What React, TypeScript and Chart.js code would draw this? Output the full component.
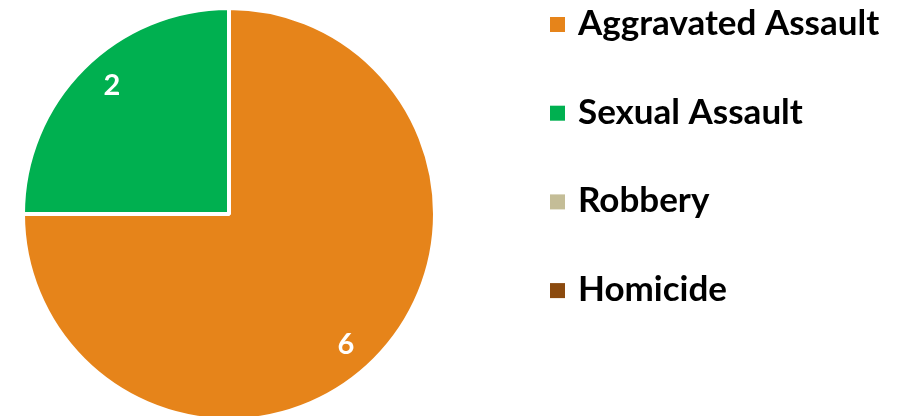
import React, { useEffect, useRef } from "react";
import { Chart, registerables } from "chart.js";

Chart.register(...registerables);

const categories = ["Aggravated Assault", "Sexual Assault", "Robbery", "Homicide"];
const counts = [6, 2, 0, 0];
const sliceColors = ["#E6841A", "#00B050", "#C4BD97", "#8B4A0E"];

const FONT = "Lato, 'Noto Sans', sans-serif";

const sliceLabelPlugin = {
  id: "sliceLabels",
  afterDatasetsDraw(chart: any) {
    const ctx = chart.ctx;
    const meta = chart.getDatasetMeta(0);
    const values = chart.data.datasets[0].data as number[];
    ctx.save();
    ctx.fillStyle = "#FFFFFF";
    ctx.font = `bold 29px ${FONT}`;
    ctx.textAlign = "center";
    ctx.textBaseline = "middle";
    meta.data.forEach((arc: any, i: number) => {
      const v = values[i];
      if (!v) return;
      const p = arc.getProps(["x", "y", "startAngle", "endAngle", "outerRadius"], true);
      const mid = (p.startAngle + p.endAngle) / 2 + 0.05;
      const r = (p.outerRadius - 2) * 0.855;
      ctx.fillText(String(v), p.x + Math.cos(mid) * r, p.y + Math.sin(mid) * r + 1);
    });
    ctx.restore();
  },
};

const legendPlugin = {
  id: "sideLegend",
  afterDraw(chart: any) {
    const ctx = chart.ctx;
    const labels = chart.data.labels as string[];
    const colors = chart.data.datasets[0].backgroundColor as string[];
    const x0 = 550;
    const step = 88.7;
    ctx.save();
    labels.forEach((label, i) => {
      const top = 17 + i * step;
      ctx.fillStyle = colors[i];
      ctx.fillRect(x0, top, 15, 15);
      ctx.fillStyle = "#000000";
      ctx.font = `bold 35px ${FONT}`;
      ctx.textAlign = "left";
      ctx.textBaseline = "alphabetic";
      ctx.fillText(label, 578, 35 + i * step);
    });
    ctx.restore();
  },
};

export default function App() {
  const ref = useRef<HTMLCanvasElement | null>(null);

  useEffect(() => {
    if (!ref.current) return;
    const chart = new Chart(ref.current, {
      type: "pie",
      data: {
        labels: categories,
        datasets: [
          {
            data: counts,
            backgroundColor: sliceColors,
            borderColor: "#FFFFFF",
            borderWidth: 4,
            radius: 206,
            clip: false,
          } as any,
        ],
      },
      options: {
        responsive: false,
        animation: false,
        layout: { padding: { left: 25, right: 472, top: 10, bottom: 10 } },
        plugins: {
          legend: { display: false },
          tooltip: { enabled: false },
        },
      },
      plugins: [sliceLabelPlugin, legendPlugin],
    });
    return () => chart.destroy();
  }, []);

  return (
    <div
      style={{
        position: "fixed",
        left: 0,
        top: 0,
        width: 905,
        height: 416,
        overflow: "hidden",
        background: "#FFFFFF",
      }}
    >
      <canvas ref={ref} width={905} height={428} style={{ display: "block", width: 905, height: 428 }} />
    </div>
  );
}
